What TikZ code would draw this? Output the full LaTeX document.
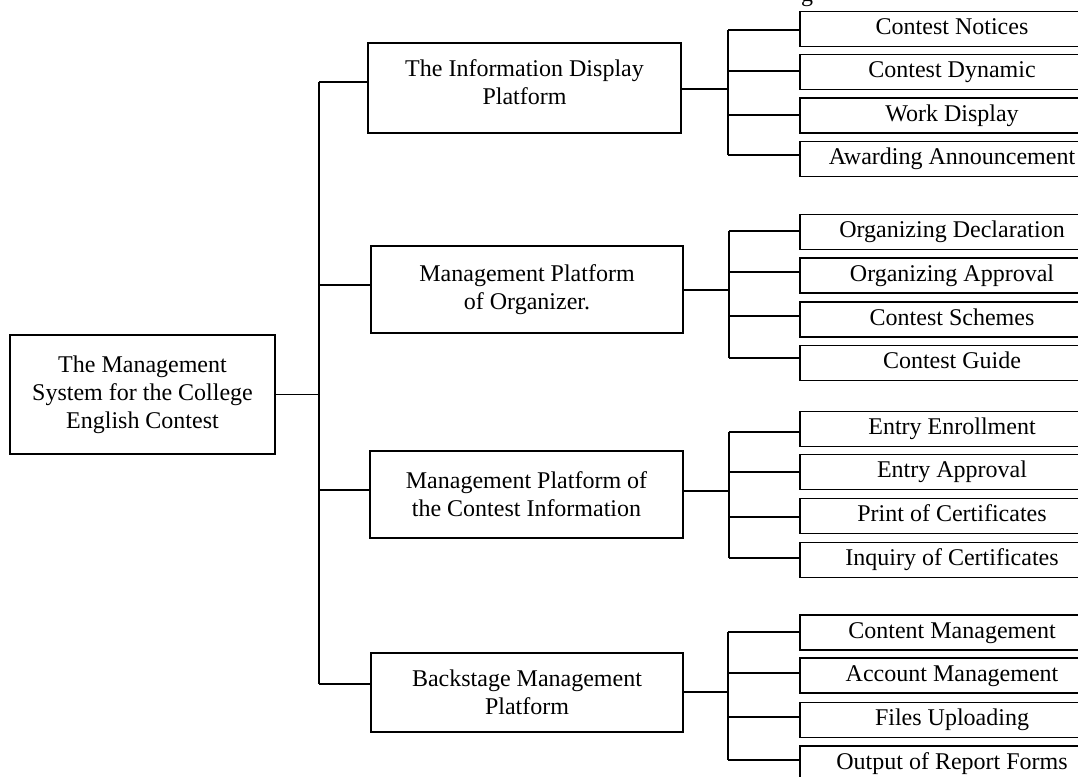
\documentclass[tikz,border=0pt]{standalone}
\usepackage{fontspec}
\setmainfont{Liberation Serif}
\begin{document}
\begin{tikzpicture}[x=1pt,y=-1pt,
  txt/.style={font=\fontsize{24}{28}\selectfont},
  box/.style={txt,draw,line width=1.9pt,inner sep=0pt,align=center},
  subbox/.style={txt,draw,line width=1.9pt,inner sep=0pt,minimum width=304pt,minimum height=35pt,text height=16.5pt,text depth=5.5pt},
  conn/.style={line width=1.9pt}]
\useasboundingbox (0,0) rectangle (1078,776);
\clip (0,0) rectangle (1078,776);

% fragment of a caption cut off at the top
\node[txt,anchor=base,inner sep=0pt] (frag) at (807,2) {g};

% root
\node[box,minimum width=265pt,minimum height=119pt] (root) at (142.5,394.5) {The Management\\System for the College\\English Contest};

% level 1
\node[box,minimum width=313pt,minimum height=90pt] (b1) at (524.5,88) {The Information Display\\Platform\\[-16pt]};
\node[box,minimum width=312pt,minimum height=87pt] (b2) at (527,289.5) {Management Platform\\of Organizer.};
\node[box,minimum width=313pt,minimum height=87pt] (b3) at (526.5,494.5) {Management Platform of\\the Contest Information};
\node[box,minimum width=312pt,minimum height=79pt] (b4) at (527,692.5) {Backstage Management\\Platform};

% level 2
\node[subbox] (a11) at (952,29) {Contest Notices};
\node[subbox] (a12) at (952,72) {Contest Dynamic};
\node[subbox] (a13) at (952,115.5) {Work Display};
\node[subbox] (a14) at (952,159) {Awarding Announcement};

\node[subbox] (a21) at (952,232) {Organizing Declaration};
\node[subbox] (a22) at (952,275.5) {Organizing Approval};
\node[subbox] (a23) at (952,319.5) {Contest Schemes};
\node[subbox] (a24) at (952,363) {Contest Guide};

\node[subbox] (a31) at (952,429) {Entry Enrollment};
\node[subbox] (a32) at (952,472) {Entry Approval};
\node[subbox] (a33) at (952,516) {Print of Certificates};
\node[subbox] (a34) at (952,560) {Inquiry of Certificates};

\node[subbox] (a41) at (952,632.5) {Content Management};
\node[subbox] (a42) at (952,675.5) {Account Management};
\node[subbox] (a43) at (952,720) {Files Uploading};
\node[subbox] (a44) at (952,763.5) {Output of Report Forms};

% main trunk
\coordinate (j1) at (319,82);
\coordinate (j2) at (319,285);
\coordinate (j3) at (319,490);
\coordinate (j4) at (319,684);
\draw[conn] (j1) -- (j4);
\draw[conn] (root.east) -- (root.east -| j1);
\draw[conn] (j1) -- (j1 -| b1.west);
\draw[conn] (j2) -- (j2 -| b2.west);
\draw[conn] (j3) -- (j3 -| b3.west);
\draw[conn] (j4) -- (j4 -| b4.west);

% group 1
\coordinate (k1) at (728,89);
\coordinate (c11) at (728,30);
\coordinate (c12) at (728,71);
\coordinate (c13) at (728,115);
\coordinate (c14) at (728,155);
\draw[conn] (k1 -| b1.east) -- (k1);
\draw[conn] (c11) -- (c14);
\draw[conn] (c11) -- (c11 -| a11.west);
\draw[conn] (c12) -- (c12 -| a12.west);
\draw[conn] (c13) -- (c13 -| a13.west);
\draw[conn] (c14) -- (c14 -| a14.west);

% group 2
\coordinate (k2) at (729,290);
\coordinate (c21) at (729,231);
\coordinate (c22) at (729,272);
\coordinate (c23) at (729,316);
\coordinate (c24) at (729,358);
\draw[conn] (k2 -| b2.east) -- (k2);
\draw[conn] (c21) -- (c24);
\draw[conn] (c21) -- (c21 -| a21.west);
\draw[conn] (c22) -- (c22 -| a22.west);
\draw[conn] (c23) -- (c23 -| a23.west);
\draw[conn] (c24) -- (c24 -| a24.west);

% group 3
\coordinate (k3) at (729,491);
\coordinate (c31) at (729,432);
\coordinate (c32) at (729,472);
\coordinate (c33) at (729,517);
\coordinate (c34) at (729,558);
\draw[conn] (k3 -| b3.east) -- (k3);
\draw[conn] (c31) -- (c34);
\draw[conn] (c31) -- (c31 -| a31.west);
\draw[conn] (c32) -- (c32 -| a32.west);
\draw[conn] (c33) -- (c33 -| a33.west);
\draw[conn] (c34) -- (c34 -| a34.west);

% group 4
\coordinate (k4) at (728,692);
\coordinate (c41) at (728,632);
\coordinate (c42) at (728,673);
\coordinate (c43) at (728,717);
\coordinate (c44) at (728,760);
\draw[conn] (k4 -| b4.east) -- (k4);
\draw[conn] (c41) -- (c44);
\draw[conn] (c41) -- (c41 -| a41.west);
\draw[conn] (c42) -- (c42 -| a42.west);
\draw[conn] (c43) -- (c43 -| a43.west);
\draw[conn] (c44) -- (c44 -| a44.west);
\end{tikzpicture}
\end{document}
